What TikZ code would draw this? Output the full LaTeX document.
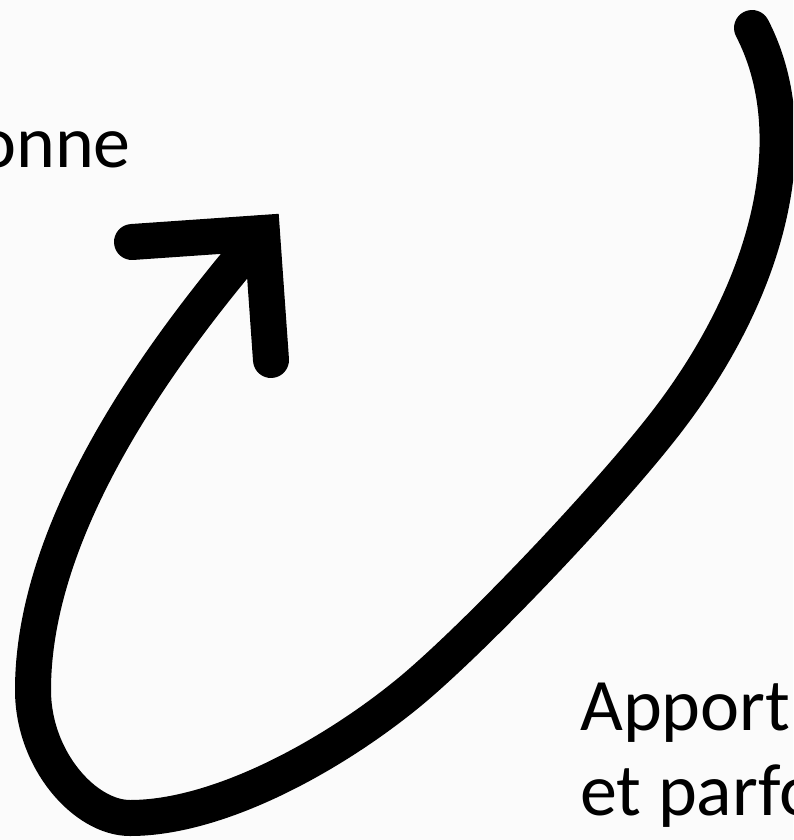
\documentclass[tikz,border=0pt]{standalone}
\usepackage{fontspec}
\setmainfont{Carlito}
\definecolor{paper}{RGB}{251,251,251}
\begin{document}
\begin{tikzpicture}[x=1pt,y=-1pt,font=\fontsize{74}{85}\selectfont,
  curl/.style={line width=36pt,line cap=round,line join=round}]
  \useasboundingbox (0,0) rectangle (793,840);
  \fill[paper] (0,0) rectangle (793,840);
  \clip (0,0) rectangle (793,840);
  \coordinate (tail) at (752,28);
  \coordinate (bend) at (668,420);
  \coordinate (mid) at (412,690);
  \coordinate (bottom) at (130,818);
  \coordinate (left) at (33,690);
  \coordinate (tip) at (262,233);
  \coordinate (armL) at (132,242);
  \coordinate (armR) at (271,360);
  \draw[curl] (tail) .. controls (805,130) and (775,280) .. (bend)
    .. controls (613,492) and (481,632) .. (mid)
    .. controls (335,754) and (220,818) .. (bottom)
    .. controls (85,818) and (33,760) .. (left)
    .. controls (33,520) and (170,340) .. (tip);
  \draw[curl,line join=miter] (armL)--(tip)--(armR);
  \node[anchor=base west,inner sep=0] (onne) at (-23,167) {onne};
  \node[anchor=base west,inner sep=0] (apport) at (580,730) {Apport};
  \node[anchor=base west,inner sep=0] (parfo) at (580,815) {et parfo};
\end{tikzpicture}
\end{document}
